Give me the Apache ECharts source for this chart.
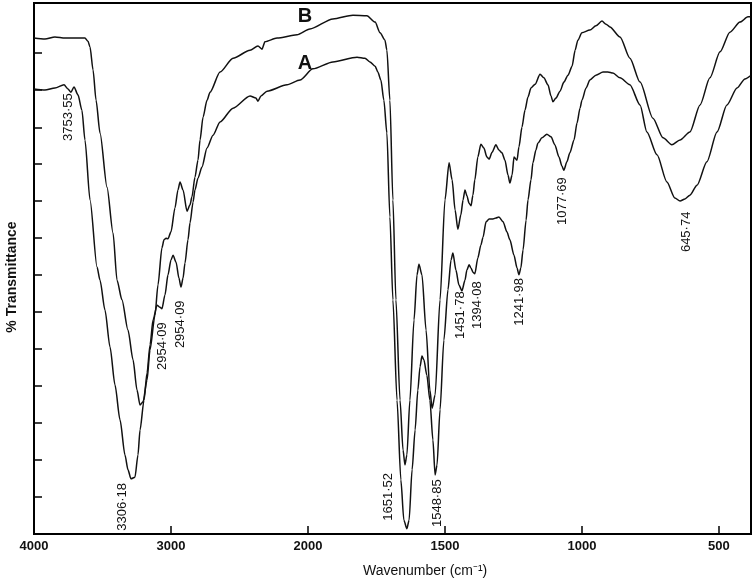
<!DOCTYPE html>
<html>
<head>
<meta charset="utf-8">
<script src="https://cdn.jsdelivr.net/npm/echarts@6/dist/echarts.min.js"></script>
<style>
html,body{margin:0;padding:0;background:#fff;}
#chart{width:755px;height:581px;}
</style>
</head>
<body>
<div id="chart"></div>
<script>
// ---- data (wavenumber cm-1, % transmittance) ----
const xTickLabels = [4000, 3000, 2000, 1500, 1000, 500];
const yTicks = [7.0, 13.9, 20.9, 27.9, 34.8, 41.8, 48.8, 55.7, 62.7, 69.7, 76.6, 83.6, 90.6];

const spectrumB = [[4000,93.4],[3920,93.2],[3847,93.6],[3774,93.4],[3701,93.4],[3628,93.4],[3606,92.8],[3591,91.7],[3569,87.4],[3547,81.7],[3518,75.5],[3467,65.3],[3423,56.7],[3394,47.8],[3358,44.1],[3314,38.4],[3277,32.8],[3248,27.1],[3226,24.3],[3204,24.9],[3175,29.0],[3153,34.7],[3117,41.2],[3095,46.9],[3066,53.9],[3051,55.4],[3036,55.7],[3022,55.6],[3000,56.9],[2971,61.4],[2949,64.8],[2934,66.3],[2912,64.8],[2883,60.8],[2861,62.0],[2847,63.5],[2825,67.2],[2803,70.4],[2788,74.2],[2766,78.5],[2737,81.7],[2715,83.2],[2642,87.0],[2547,89.6],[2423,91.1],[2365,91.9],[2336,91.3],[2314,92.7],[2226,93.4],[2080,94.0],[1993,95.1],[1909,97.0],[1836,97.7],[1785,97.6],[1755,96.4],[1737,94.4],[1719,93.0],[1712,91.1],[1701,81.7],[1690,62.9],[1679,44.1],[1664,25.2],[1653,15.8],[1646,13.0],[1639,14.9],[1628,25.2],[1613,40.3],[1602,48.8],[1595,50.8],[1584,48.8],[1569,38.4],[1555,27.1],[1547,23.7],[1536,26.2],[1518,44.1],[1500,62.9],[1485,69.9],[1474,66.7],[1463,61.0],[1453,57.4],[1442,60.1],[1434,62.9],[1427,64.8],[1420,63.7],[1412,62.3],[1405,61.8],[1398,63.8],[1391,66.7],[1380,71.0],[1369,73.4],[1358,72.7],[1347,71.0],[1339,70.6],[1328,71.9],[1314,73.3],[1303,72.3],[1292,71.8],[1281,70.4],[1270,67.6],[1263,66.1],[1255,67.6],[1248,71.0],[1237,70.4],[1230,72.9],[1219,76.6],[1208,79.8],[1197,82.3],[1186,84.0],[1171,84.7],[1153,86.6],[1139,85.9],[1124,84.6],[1113,82.5],[1106,81.4],[1095,82.1],[1080,83.4],[1066,85.1],[1051,86.4],[1036,88.1],[1025,91.1],[1015,93.0],[1000,94.4],[971,94.9],[949,95.7],[927,96.6],[912,96.0],[898,95.5],[861,93.6],[825,89.6],[788,85.1],[741,78.3],[704,74.6],[672,73.3],[642,74.2],[606,75.7],[569,80.8],[533,85.9],[496,90.8],[460,94.5],[423,96.4],[394,97.4],[385,97.4]];

const spectrumA = [[4000,83.8],[3920,83.6],[3847,84.0],[3781,84.6],[3752,83.8],[3730,83.2],[3708,84.2],[3679,82.7],[3650,79.8],[3628,74.2],[3591,62.9],[3540,50.3],[3518,47.8],[3482,42.2],[3445,35.2],[3409,28.1],[3372,21.5],[3336,14.9],[3314,12.1],[3292,10.4],[3263,10.7],[3241,14.9],[3226,19.6],[3197,25.2],[3175,30.3],[3153,35.6],[3131,40.3],[3102,43.1],[3080,42.7],[3066,42.4],[3044,45.0],[3022,48.8],[3000,51.6],[2985,52.5],[2963,51.2],[2942,48.2],[2927,46.5],[2912,48.2],[2898,51.0],[2876,55.4],[2861,58.6],[2839,62.5],[2825,64.8],[2803,67.0],[2774,69.1],[2737,72.7],[2693,75.1],[2642,77.6],[2547,80.2],[2423,82.5],[2380,82.1],[2365,81.5],[2343,82.5],[2299,83.4],[2153,84.6],[2058,85.5],[1982,87.6],[1909,88.9],[1821,89.8],[1792,89.6],[1774,88.9],[1755,88.1],[1745,87.0],[1734,85.5],[1723,81.7],[1712,75.5],[1701,59.7],[1690,44.1],[1675,25.2],[1661,10.2],[1650,2.6],[1639,1.0],[1631,2.6],[1620,12.1],[1609,19.6],[1599,27.1],[1591,31.5],[1584,33.5],[1577,32.8],[1566,29.9],[1555,25.2],[1544,17.7],[1536,11.1],[1529,13.0],[1518,23.4],[1504,36.5],[1489,46.0],[1478,51.6],[1471,52.9],[1460,49.7],[1449,46.9],[1438,45.8],[1427,47.8],[1420,49.7],[1412,50.7],[1405,50.1],[1398,49.3],[1391,49.0],[1380,52.0],[1369,54.4],[1361,55.9],[1350,58.8],[1339,59.3],[1328,59.3],[1314,59.5],[1303,59.7],[1288,58.8],[1274,56.9],[1263,55.4],[1248,52.5],[1237,50.1],[1230,48.8],[1223,50.1],[1215,53.5],[1204,59.1],[1197,62.9],[1186,66.7],[1179,69.9],[1168,72.3],[1161,73.6],[1146,74.6],[1128,75.3],[1113,74.8],[1099,73.3],[1084,71.0],[1073,69.3],[1066,68.5],[1055,70.1],[1044,71.8],[1029,74.2],[1018,77.4],[1007,80.2],[1000,81.7],[985,84.0],[971,85.5],[949,86.4],[923,87.0],[905,87.0],[887,86.8],[861,85.9],[825,84.6],[788,80.8],[763,75.7],[726,71.4],[690,66.3],[661,63.3],[642,62.7],[624,63.1],[606,63.8],[580,65.7],[544,70.1],[507,75.7],[471,80.8],[434,84.0],[405,85.7],[385,86.3]];

// peak annotations: text, label centre (wavenumber, %T)
const peakTexts = ['3753·55','3306·18','2954·09','2954·09','1651·52','1548·85','1451·78','1394·08','1241·98','1077·69','645·74'];
const peakLabelW = [3752, 3358, 3066, 2934, 1708, 1529, 1445, 1380, 1230, 1073, 617];
const peakLabelT = [78.5, 5.1, 35.4, 39.5, 7.0, 5.8, 41.2, 43.1, 43.7, 62.7, 56.9];

const curveNames = ['B', 'A'];
const curveNameW = [2022, 2022];
const curveNameT = [97.4, 88.7];

const xTitle = 'Wavenumber (cm\u207B\u00B9)';
const yTitle = '% Transmittance';

// ---- axis mapping: 4000-2000 at half the scale of 2000-400 ----
function toAxis(w) { return w >= 2000 ? 4000 - w : 2000 + 2 * (2000 - w); }
function fromAxis(p) { return p <= 2000 ? 4000 - p : 2000 - (p - 2000) / 2; }
const xMaxW = 383;

const chart = echarts.init(document.getElementById('chart'), null, {renderer: 'canvas'});
const lineStyle = {color: '#111', width: 1.5};

chart.setOption({
  animation: false,
  backgroundColor: '#fff',
  grid: {left: 34, right: 4, top: 3, bottom: 47, outerBoundsMode: 'none', containLabel: false,
    show: true, borderColor: '#000', borderWidth: 2, backgroundColor: 'transparent'},
  xAxis: {
    type: 'value', min: 0, max: toAxis(xMaxW), interval: 1000,
    axisLine: {lineStyle: {color: '#000', width: 2}},
    axisTick: {inside: true, length: 8, lineStyle: {color: '#000', width: 1.5},
      customValues: xTickLabels.map(toAxis)},
    axisLabel: {customValues: xTickLabels.map(toAxis), margin: 6,
      formatter: v => String(Math.round(fromAxis(v))),
      fontFamily: 'Liberation Sans', fontWeight: 'bold', fontSize: 13, color: '#111'},
    splitLine: {show: false}
  },
  yAxis: {
    type: 'value', min: 0, max: 100,
    axisLine: {lineStyle: {color: '#000', width: 2}},
    axisTick: {inside: true, length: 8, lineStyle: {color: '#000', width: 1.5}, customValues: yTicks},
    axisLabel: {show: false},
    splitLine: {show: false}
  },
  series: [
    {name: 'B', type: 'line', data: spectrumB.map(d => [toAxis(d[0]), d[1]]), showSymbol: false,
     smooth: 0.25, smoothMonotone: 'x', lineStyle: lineStyle},
    {name: 'A', type: 'line', data: spectrumA.map(d => [toAxis(d[0]), d[1]]), showSymbol: false,
     smooth: 0.25, smoothMonotone: 'x', lineStyle: lineStyle}
  ]
});

const gfx = [];
peakTexts.forEach((t, i) => {
  const pt = chart.convertToPixel({gridIndex: 0}, [toAxis(peakLabelW[i]), peakLabelT[i]]);
  gfx.push({type: 'text', x: pt[0], y: pt[1], rotation: Math.PI / 2,
    style: {text: t, x: 0, y: 0, align: 'center', verticalAlign: 'middle',
      font: '13px "Liberation Sans"', fill: '#111'}});
});
curveNames.forEach((t, i) => {
  const pt = chart.convertToPixel({gridIndex: 0}, [toAxis(curveNameW[i]), curveNameT[i]]);
  gfx.push({type: 'text', x: pt[0], y: pt[1],
    style: {text: t, x: 0, y: 0, align: 'center', verticalAlign: 'middle',
      font: 'bold 20px "Liberation Sans"', fill: '#111'}});
});
// axis titles
gfx.push({type: 'text', left: 363, top: 564,
  style: {text: xTitle, font: '14px "Liberation Sans"', fill: '#111'}});
gfx.push({type: 'text', x: 12, y: 277, rotation: Math.PI / 2,
  style: {text: yTitle, x: 0, y: 0, align: 'center', verticalAlign: 'middle',
    font: 'bold 14px "Liberation Sans"', fill: '#111'}});
chart.setOption({graphic: gfx});
</script>
</body>
</html>
